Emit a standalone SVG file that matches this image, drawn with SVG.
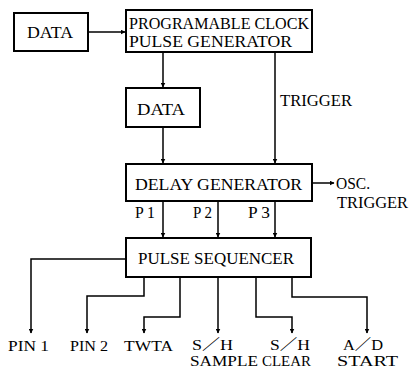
<svg xmlns="http://www.w3.org/2000/svg" width="411" height="374" viewBox="0 0 411 374">
<style>
.box{fill:#fff;stroke:#000;stroke-width:2}
.t{font-family:"Liberation Serif","Times New Roman","Noto Sans CJK JP",serif;font-size:16px;fill:#000}
.s{font-size:15px}
.c{fill:none;stroke:#000;stroke-width:1.5;marker-end:url(#ah)}
</style>
<defs>
<marker id="ah" viewBox="0 0 10 10" refX="9" refY="5" markerWidth="5" markerHeight="5" orient="auto" markerUnits="userSpaceOnUse">
<path d="M0,0 L10,5 L0,10 z" fill="#000"/>
</marker>
</defs>
<rect width="411" height="374" fill="#fff"/>
<g id="connectors">
<path class="c" d="M88,32 H125"/>
<path class="c" d="M163,52 V87"/>
<path class="c" d="M163,127 V163"/>
<path class="c" d="M275,52 V163"/>
<path class="c" d="M312,183 H334"/>
<path class="c" d="M163,201 V237"/>
<path class="c" d="M218,201 V237"/>
<path class="c" d="M275,201 V237"/>
<path class="c" d="M126,259 H31 V333"/>
<path class="c" d="M144,277 V296 H87 V333"/>
<path class="c" d="M180,277 V317 H144 V333"/>
<path class="c" d="M218,277 V333"/>
<path class="c" d="M256,277 V317 H292 V333"/>
<path class="c" d="M292,277 V297 H367 V333"/>
</g>
<g id="data1">
<rect class="box" x="14" y="13" width="74" height="38"/>
<text class="t" x="27" y="37.5" textLength="46" lengthAdjust="spacingAndGlyphs">DATA</text>
</g>
<g id="pcpg">
<rect class="box" x="126" y="10" width="186" height="42"/>
<text class="t" x="129" y="29" textLength="180" lengthAdjust="spacingAndGlyphs">PROGRAMABLE CLOCK</text>
<text class="t" x="129" y="47" textLength="163" lengthAdjust="spacingAndGlyphs">PULSE GENERATOR</text>
</g>
<g id="data2">
<rect class="box" x="126" y="88" width="74" height="39"/>
<text class="t" x="137" y="115" textLength="48" lengthAdjust="spacingAndGlyphs">DATA</text>
</g>
<text class="t" x="280" y="106" textLength="72" lengthAdjust="spacingAndGlyphs">TRIGGER</text>
<g id="delay">
<rect class="box" x="126" y="164" width="186" height="37"/>
<text class="t" x="135" y="190" textLength="167" lengthAdjust="spacingAndGlyphs">DELAY GENERATOR</text>
</g>
<text class="t" x="336" y="189" textLength="34" lengthAdjust="spacingAndGlyphs">OSC.</text>
<text class="t" x="337" y="208" textLength="71" lengthAdjust="spacingAndGlyphs">TRIGGER</text>
<text class="t" x="135" y="218" textLength="20" lengthAdjust="spacingAndGlyphs">P 1</text>
<text class="t" x="193" y="218" textLength="19" lengthAdjust="spacingAndGlyphs">P 2</text>
<text class="t" x="248" y="218" textLength="22" lengthAdjust="spacingAndGlyphs">P 3</text>
<g id="seq">
<rect class="box" x="126" y="238" width="185" height="39"/>
<text class="t" x="138" y="264" textLength="156" lengthAdjust="spacingAndGlyphs">PULSE SEQUENCER</text>
</g>
<g id="outputs">
<text class="t s" x="8" y="351" textLength="41" lengthAdjust="spacingAndGlyphs">PIN 1</text>
<text class="t s" x="70" y="351" textLength="38" lengthAdjust="spacingAndGlyphs">PIN 2</text>
<text class="t s" x="124" y="351" textLength="49" lengthAdjust="spacingAndGlyphs">TWTA</text>
<text class="t s" x="192" y="350" textLength="41" lengthAdjust="spacingAndGlyphs">S／H</text>
<text class="t s" x="190" y="366" textLength="68" lengthAdjust="spacingAndGlyphs">SAMPLE</text>
<text class="t s" x="270" y="350" textLength="40" lengthAdjust="spacingAndGlyphs">S／H</text>
<text class="t s" x="262" y="366" textLength="49" lengthAdjust="spacingAndGlyphs">CLEAR</text>
<text class="t s" x="343" y="350" textLength="40" lengthAdjust="spacingAndGlyphs">A／D</text>
<text class="t s" x="337" y="366" textLength="61" lengthAdjust="spacingAndGlyphs">START</text>
</g>
</svg>
